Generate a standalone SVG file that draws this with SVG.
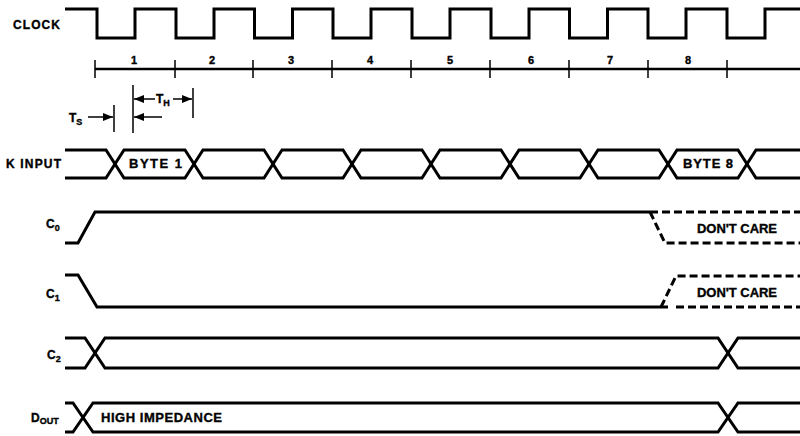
<svg xmlns="http://www.w3.org/2000/svg" width="800" height="436" viewBox="0 0 800 436">
<defs>
<marker id="ah" markerUnits="userSpaceOnUse" markerWidth="10" markerHeight="8" refX="10" refY="4" orient="auto"><path d="M0,0 L10,4 L0,8 z" fill="#000"/></marker>
<style>
.sig{fill:none;stroke:#000;stroke-width:3;stroke-linejoin:miter}
.dash{fill:none;stroke:#000;stroke-width:3;stroke-dasharray:8 4}
.thin{fill:none;stroke:#000;stroke-width:1.5}
.bar{fill:none;stroke:#000;stroke-width:2.5}
.arr{fill:none;stroke:#000;stroke-width:1.5;marker-end:url(#ah)}
text{font-family:"Liberation Sans",Arial,sans-serif;font-weight:bold;fill:#000;stroke:#000;stroke-width:0.35}
.lbl{font-size:12px}
.big{font-size:13px}
.num{font-size:11px;text-anchor:middle}
.sub{font-size:9px}
</style>
</defs>
<rect width="800" height="436" fill="#fff"/>
<g id="clock">
<text class="lbl" x="13" y="29" textLength="47" lengthAdjust="spacing">CLOCK</text>
<path class="sig" d="M65,9 H97 V38 H135 V9 H176 V38 H214 V9 H254.5 V38 H292.5 V9 H333 V38 H371 V9 H412 V38 H450 V9 H491 V38 H529 V9 H569.5 V38 H607.5 V9 H648 V38 H686 V9 H727 V38 H765 V9 H800"/>
</g>
<g id="timing-bar">
<path class="bar" d="M95,69 H800"/>
<path class="thin" d="M95,60 V78 M175,60 V78 M253,60 V78 M332,60 V78 M411,60 V78 M490,60 V78 M569,60 V78 M648,60 V78 M727,60 V78"/>
<text class="num" x="134" y="64">1</text>
<text class="num" x="212" y="64">2</text>
<text class="num" x="291" y="64">3</text>
<text class="num" x="370" y="64">4</text>
<text class="num" x="450" y="64">5</text>
<text class="num" x="531" y="64">6</text>
<text class="num" x="610" y="64">7</text>
<text class="num" x="688" y="64">8</text>
</g>
<g id="setup-hold">
<path class="thin" d="M114,105 V132 M133,85 V133 M193,88 V118"/>
<text class="lbl" x="69" y="122">T<tspan class="sub" dy="3">S</tspan></text>
<text class="lbl" x="156" y="103">T<tspan class="sub" dy="3">H</tspan></text>
</g>
<g id="connectors">
<line class="arr" x1="88" y1="117" x2="113" y2="117"/>
<line class="arr" x1="155" y1="99" x2="134" y2="99"/>
<line class="arr" x1="173" y1="99" x2="192" y2="99"/>
<line class="arr" x1="162" y1="117" x2="134" y2="117"/>
</g>
<g id="k-input">
<text class="lbl" x="6" y="168" textLength="55" lengthAdjust="spacing">K INPUT</text>
<path class="sig" d="M65,150 H106 L124,178 H185 L203,150 H264 L282,178 H343 L361,150 H422 L440,178 H501 L519,150 H580 L598,178 H659 L677,150 H738 L756,178 H800"/>
<path class="sig" d="M65,178 H106 L124,150 H185 L203,178 H264 L282,150 H343 L361,178 H422 L440,150 H501 L519,178 H580 L598,150 H659 L677,178 H738 L756,150 H800"/>
<text class="big" x="129" y="168" textLength="53" lengthAdjust="spacing">BYTE 1</text>
<text class="big" x="683" y="168" textLength="50" lengthAdjust="spacing">BYTE 8</text>
</g>
<g id="c0">
<text class="lbl" x="46" y="228">C<tspan class="sub" dy="3">0</tspan></text>
<path class="sig" d="M65,243 H78 L95,212 H650"/>
<path class="dash" d="M650,212 H800 M650,212 L665,243 H800"/>
<text class="big" x="697" y="233" textLength="80" lengthAdjust="spacing">DON'T CARE</text>
</g>
<g id="c1">
<text class="lbl" x="46" y="298">C<tspan class="sub" dy="3">1</tspan></text>
<path class="sig" d="M65,275 H78 L97,307 H668"/>
<path class="dash" d="M661,307 L676,276 H800 M676,307 H800"/>
<text class="big" x="697" y="297" textLength="80" lengthAdjust="spacing">DON'T CARE</text>
</g>
<g id="c2">
<text class="lbl" x="47" y="359">C<tspan class="sub" dy="3">2</tspan></text>
<path class="sig" d="M65,338 H85 L105,368 H718 L738,338 H800"/>
<path class="sig" d="M65,368 H85 L105,338 H718 L738,368 H800"/>
</g>
<g id="dout">
<text class="lbl" x="31" y="422">D<tspan class="sub" dy="2">OUT</tspan></text>
<path class="sig" d="M65,403 H73 L93,432 H718 L738,403 H800"/>
<path class="sig" d="M65,432 H73 L93,403 H718 L738,432 H800"/>
<text class="big" x="101" y="422" textLength="121" lengthAdjust="spacing">HIGH IMPEDANCE</text>
</g>
</svg>
